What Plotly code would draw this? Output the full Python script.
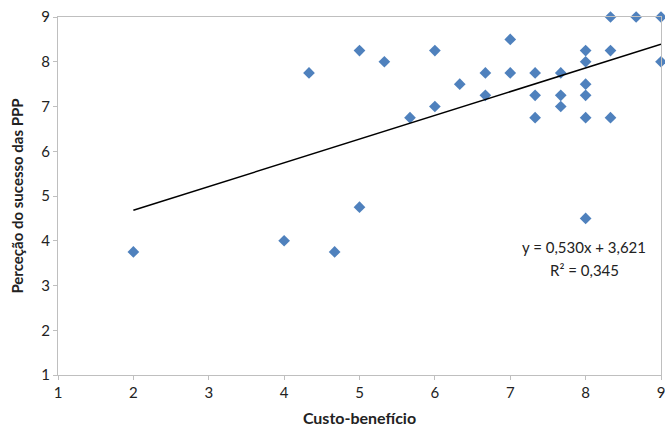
import plotly.graph_objects as go

custo_beneficio = [2, 4, 4.33, 4.67, 5, 5, 5.33, 5.67, 6, 6, 6.33, 6.67, 6.67,
                   7, 7, 7.33, 7.33, 7.33, 7.67, 7.67, 7.67,
                   8, 8, 8, 8, 8, 8, 8.33, 8.33, 8.33, 8.67, 9, 9]
percecao_sucesso = [3.75, 4.0, 7.75, 3.75, 8.25, 4.75, 8.0, 6.75, 8.25, 7.0, 7.5, 7.75, 7.25,
                    8.5, 7.75, 7.75, 7.25, 6.75, 7.75, 7.25, 7.0,
                    8.25, 8.0, 7.5, 7.25, 6.75, 4.5, 9.0, 8.25, 6.75, 9.0, 9.0, 8.0]

slope = 0.530
intercept = 3.621
r2 = 0.345
trend_x = [min(custo_beneficio), max(custo_beneficio)]
trend_y = [slope * v + intercept for v in trend_x]

tick_vals = [1, 2, 3, 4, 5, 6, 7, 8, 9]

FONT = "Lato"
fig = go.Figure()
fig.add_trace(go.Scatter(
    x=custo_beneficio, y=percecao_sucesso, mode="markers",
    marker=dict(symbol="diamond", size=9, color="#4F81BD"),
    cliponaxis=False, showlegend=False))
fig.add_trace(go.Scatter(
    x=trend_x, y=trend_y, mode="lines",
    line=dict(color="black", width=1.5), showlegend=False))

axis_common = dict(
    range=[1, 9], tickvals=tick_vals, showgrid=False, zeroline=False,
    showline=True, linecolor="#BFBFBF", linewidth=1, mirror=True,
    ticks="outside", ticklen=4, tickcolor="#BFBFBF",
    ticklabeloverflow="allow", automargin=False,
    tickfont=dict(family=FONT, size=15, color="#222222"))

fig.update_layout(
    width=665, height=430,
    margin=dict(l=58, r=4, t=17, b=55, autoexpand=False),
    paper_bgcolor="white", plot_bgcolor="white",
    xaxis=dict(**axis_common,
               title=dict(text="<b>Custo-benefício</b>", standoff=12,
                          font=dict(family=FONT, size=16, color="#222222"))),
    yaxis=dict(**axis_common,
               title=dict(text="<b>Perceção do sucesso das PPP</b>", standoff=14,
                          font=dict(family=FONT, size=15, color="#222222"))),
)

fig.add_annotation(x=7.98, y=3.86, xref="x", yref="y", showarrow=False,
                   text=f"y = {slope:.3f}x + {intercept:.3f}".replace(".", ","),
                   font=dict(family=FONT, size=15, color="#222222"))
fig.add_annotation(x=7.98, y=3.35, xref="x", yref="y", showarrow=False,
                   text=f"R² = {r2:.3f}".replace(".", ","),
                   font=dict(family=FONT, size=15, color="#222222"))

fig.write_html("out.html", config={"displayModeBar": False},
               post_script="document.body.style.margin='0';")
